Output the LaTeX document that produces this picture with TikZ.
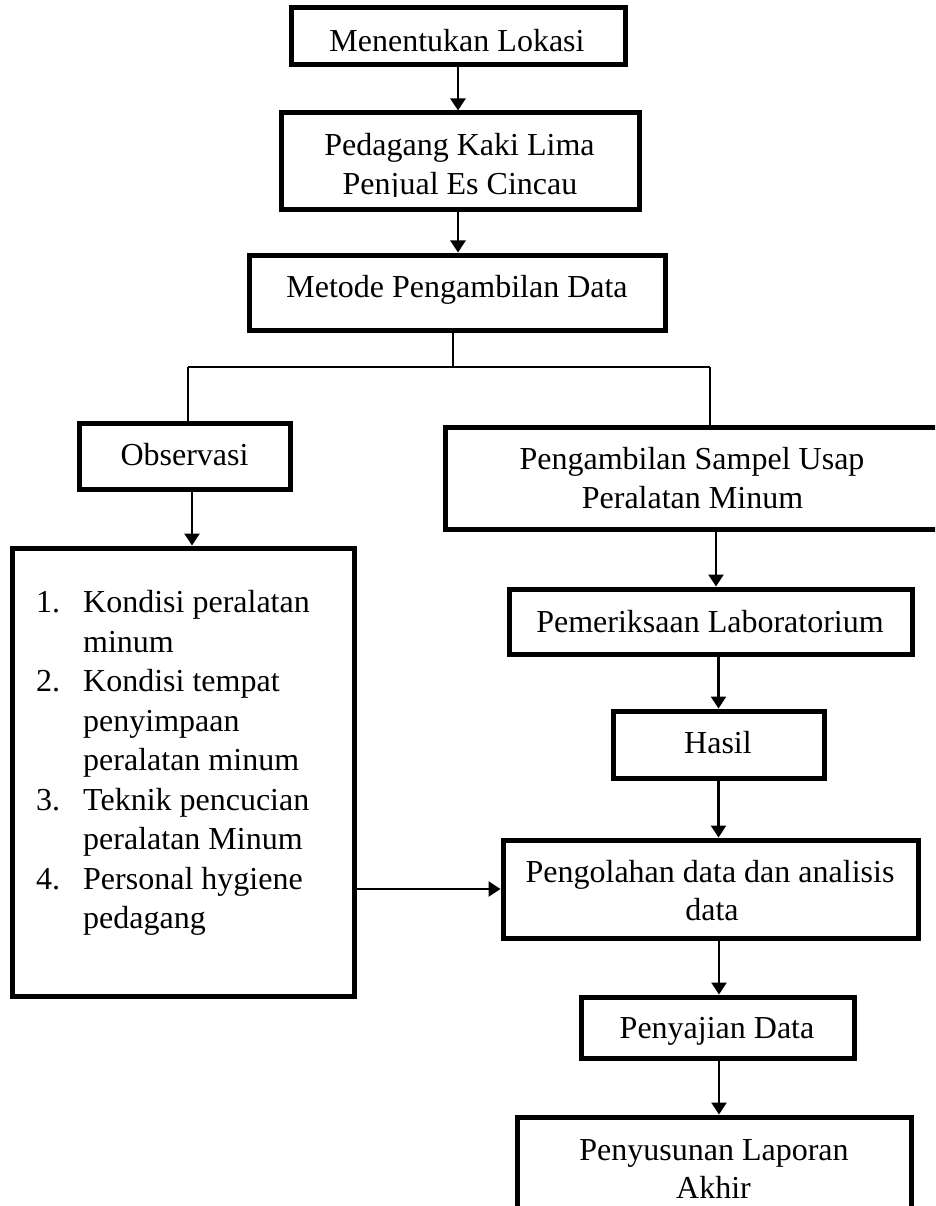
\documentclass[tikz,border=0pt]{standalone}
\usepackage{fontspec}
\setmainfont{Liberation Serif}
\usetikzlibrary{arrows.meta}
\begin{document}
\begin{tikzpicture}[x=1pt,y=-1pt,
  box/.style={draw, line width=5pt, inner sep=0pt},
  txt/.style={anchor=base, inner sep=0pt, font=\fontsize{32}{39.5}\selectfont},
  ltxt/.style={anchor=base west, inner sep=0pt, font=\fontsize{32}{39.5}\selectfont},
  arr/.style={line width=2.6pt, -{Triangle[width=15pt,length=12pt]}},
  tree/.style={line width=1.5pt}]
\useasboundingbox (0,0) rectangle (935,1206);
\clip (0,0) rectangle (935,1206);

% boxes
\node[box, minimum width=334pt, minimum height=57pt] (b1) at (458,36.5) {};
\node[box, minimum width=358pt, minimum height=97pt] (b2) at (460,161.5) {};
\node[box, minimum width=416pt, minimum height=75pt] (b3) at (457,292.5) {};
\node[box, minimum width=211pt, minimum height=66pt] (obs) at (184.5,456) {};
\node[box, minimum width=342pt, minimum height=448pt] (list) at (183,772) {};
\node[box, minimum width=495pt, minimum height=102pt] (samp) at (692.5,478) {};
\node[box, minimum width=403pt, minimum height=65pt] (pem) at (710.5,621.5) {};
\node[box, minimum width=211pt, minimum height=67pt] (hasil) at (718.5,744.5) {};
\node[box, minimum width=415pt, minimum height=98pt] (olah) at (710.5,889) {};
\node[box, minimum width=273pt, minimum height=61pt] (saji) at (717.5,1027.5) {};
\node[box, minimum width=394pt, minimum height=123pt] (susun) at (714,1178.5) {};

% texts
\node[txt] (t1) at (457,52) {Menentukan Lokasi};
\node[txt] (t2a) at (459.5,156) {Pedagang Kaki Lima};
\begin{scope}
  \clip (285,170) rectangle (635,196.5);
  \node[txt] (t2b) at (460,195) {Penjual Es Cincau};
\end{scope}
\node[txt] (t3) at (457,297) {Metode Pengambilan Data};
\node[txt] (tobs) at (184.5,465) {Observasi};
\node[txt] (tsa) at (692,469) {Pengambilan Sampel Usap};
\node[txt] (tsb) at (692.5,508) {Peralatan Minum};
\node[txt] (tpem) at (710,632) {Pemeriksaan Laboratorium};
\node[txt] (thas) at (718,753) {Hasil};
\node[txt] (toa) at (710,882) {Pengolahan data dan analisis};
\node[txt] (tob) at (712,920) {data};
\node[txt] (tsaji) at (717,1038) {Penyajian Data};
\node[txt] (tsua) at (714,1160) {Penyusunan Laporan};
\node[txt] (tsub) at (713.5,1198) {Akhir};

% list
\node[ltxt] (n1) at (36,612.5) {1.};
\node[ltxt] (l1) at (83,612.5) {Kondisi peralatan};
\node[ltxt] (l2) at (83,652) {minum};
\node[ltxt] (n2) at (36,691.5) {2.};
\node[ltxt] (l3) at (83,691.5) {Kondisi tempat};
\node[ltxt] (l4) at (83,731) {penyimpaan};
\node[ltxt] (l5) at (83,770.5) {peralatan minum};
\node[ltxt] (n3) at (36,810) {3.};
\node[ltxt] (l6) at (83,810) {Teknik pencucian};
\node[ltxt] (l7) at (83,849.5) {peralatan Minum};
\node[ltxt] (n4) at (36,889) {4.};
\node[ltxt] (l8) at (83,889) {Personal hygiene};
\node[ltxt] (l9) at (83,928.5) {pedagang};

% connectors
\draw[arr] (b1.south) -- (b1.south |- b2.north);
\draw[arr] (b1.south |- b2.south) -- (b1.south |- b3.north);

\coordinate (j) at (453,367);
\coordinate (jl) at (188,367);
\coordinate (jr) at (710,367);
\draw[tree] (j |- b3.south) -- (j);
\draw[tree] (jl) -- (jr);
\draw[tree] (jl) -- (jl |- obs.north);
\draw[tree] (jr) -- (jr |- samp.north);

\path (obs.south) ++(7.5,0) coordinate (o1);
\draw[arr] (o1) -- (o1 |- list.north);

\path (pem.north) ++(5.5,0) coordinate (p1);
\draw[arr] (p1 |- samp.south) -- (p1);
\draw[arr] (hasil.north |- pem.south) -- (hasil.north);
\draw[arr] (hasil.south) -- (hasil.south |- olah.north);
\path (olah.south) ++(8.5,0) coordinate (q1);
\draw[arr] (q1) -- (q1 |- saji.north);
\path (saji.south) ++(1.5,0) coordinate (q2);
\draw[arr] (q2) -- (q2 |- susun.north);
\draw[arr] (olah.west -| list.east) -- (olah.west);
\end{tikzpicture}
\end{document}
